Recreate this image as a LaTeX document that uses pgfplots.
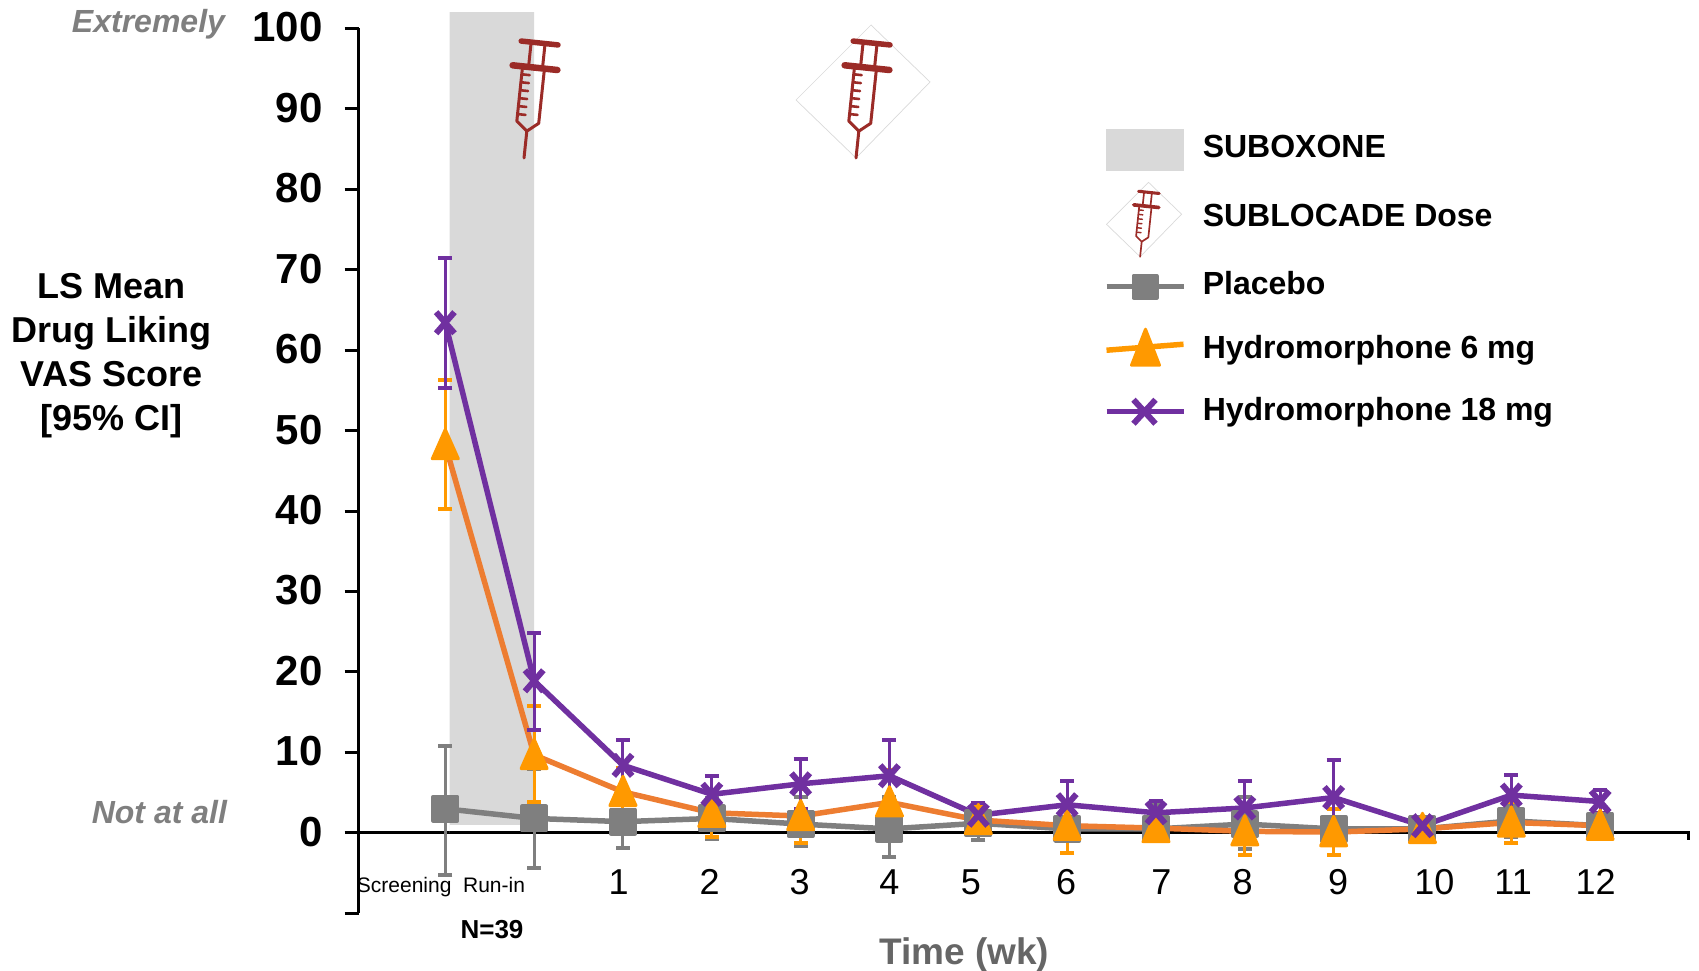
\documentclass[border=0pt]{standalone}
\usepackage{pgfplots}
\usepackage{pgfplotstable}
\usepackage{fontspec}
\setmainfont{Liberation Sans}
\pgfplotsset{compat=1.18}
\definecolor{bandgray}{HTML}{D9D9D9}
\definecolor{pbo}{HTML}{7F7F7F}
\definecolor{hlow}{HTML}{ED7D31}
\definecolor{hlowm}{HTML}{FF9900}
\definecolor{hhigh}{HTML}{7030A0}
\definecolor{syr}{HTML}{9B2B27}
\newcommand{\fs}[1]{\fontsize{#1}{#1}\selectfont}
% syringe: #1,#2 needle tip, #3 scale
\newcommand{\syringe}[3]{%
\begin{scope}[x=1pt,y=1pt,shift={(#1,#2)},scale=#3,rotate=-6,draw=syr,line cap=round,line join=round]
\draw[line width=#3*3pt] (0,0)--(0,27)--(-11,36)--(-11,91);
\draw[line width=#3*3pt] (0,27)--(11,36)--(11,91);
\draw[line width=#3*2.6pt] (-11,43)--(-3,43) (-11,51)--(-3,51) (-11,59)--(-3,59) (-11,67)--(-3,67) (-11,75)--(-3,75) (-11,83)--(-3,83);
\draw[line width=#3*3pt] (-5,91)--(-5,116) (9,91)--(9,116);
\draw[line width=#3*6.5pt] (-21,91)--(24,91);
\draw[line width=#3*5.5pt] (-15,116)--(22,116);
\end{scope}}
\newcommand{\diamondbox}[3]{%
\begin{scope}[x=1pt,y=1pt,shift={(#1,#2)},scale=#3]
\draw[black!15,line width=0.7pt] (0,0)--(74,76)--(15,133)--(-60,58)--cycle;
\end{scope}}
\pgfplotstableread{
x y p m
0 3.0 7.8 8.2
1 1.8 6.2 6.2
2 1.4 3.1 3.3
3 1.8 2.6 2.6
4 1.1 3.4 2.7
5 0.5 4.0 3.5
6 1.2 2.1 2.1
7 0.5 2.8 3.0
8 0.5 3.0 1.0
9 1.1 3.4 3.1
10 0.5 1.5 1.5
11 0.5 1.0 0.8
12 1.5 2.0 2.0
13 0.9 1.6 1.4
}\placebodata
\pgfplotstableread{
x y p m
0 48.2 8.1 8.0
1 9.7 6.1 5.9
2 5.1 3.0 3.0
3 2.5 2.5 3.0
4 2.1 3.4 3.3
5 3.8 4.0 3.8
6 1.6 1.9 1.6
7 0.9 2.6 3.4
8 0.6 1.4 0.9
9 0.2 2.8 3.0
10 0.1 2.9 2.9
11 0.5 1.0 1.0
12 1.3 2.5 2.5
13 0.9 1.6 1.4
}\hsixdata
\pgfplotstableread{
x y p m
0 63.4 8.1 8.1
1 18.9 6.0 6.1
2 8.4 3.2 3.4
3 4.8 2.3 2.3
4 6.1 3.1 3.1
5 7.1 4.5 4.6
6 2.2 1.5 1.5
7 3.5 3.0 3.0
8 2.5 1.5 1.5
9 3.1 3.4 3.1
10 4.4 4.6 4.4
11 0.9 0.9 0.9
12 4.7 2.5 2.5
13 3.9 1.4 1.4
}\heightdata
\begin{document}
\begin{tikzpicture}[x=1pt,y=1pt]
\path[use as bounding box] (0,0) rectangle (1699,971);
\begin{axis}[
  at={(358.6pt,57.6pt)}, anchor=south west,
  scale only axis, width=1329.5pt, height=885.2pt,
  clip=false,
  xmin=-0.976, xmax=13.99, ymin=-10, ymax=100,
  axis x line=middle, axis y line=left,
  axis line style={-, line width=3pt, black},
  hide obscured x ticks=false, hide obscured y ticks=false,
  ytick={-10,0,10,20,30,40,50,60,70,80,90,100},
  yticklabels={{},0,10,20,30,40,50,60,70,80,90,100},
  yticklabel style={font=\fs{42}\bfseries, inner sep=0pt, xshift=-22pt, yshift=1pt},
  xtick={1.951,2.976,3.988,5.0,5.915,6.988,8.061,8.976,10.05,11.134,12.02,12.95},
  xticklabels={1,2,3,4,5,6,7,8,9,10,11,12},
  xticklabel style={font=\fs{36}, yshift=-19pt},
  tick align=outside,
  x tick style={draw=none},
  y tick style={line width=3pt, black},
  major tick length=14pt,
  xlabel={Time (wk)},
  xlabel style={at={(axis cs:5.84,-15.1)}, anchor=center, font=\fs{37}\bfseries, text=black!60},
  ylabel={LS Mean\\[8pt] Drug Liking\\[8pt] VAS Score\\[8pt] [95\% CI]},
  ylabel style={at={(axis cs:-3.756,59.3)}, anchor=center, rotate=-90, align=center, font=\fs{36}\bfseries},
  legend cell align=left,
  legend style={at={(axis cs:7.41,87.6)}, anchor=north west, draw=none, fill=none,
    inner sep=0pt, row sep=0pt, font=\fs{32}\bfseries,
    nodes={inner sep=0pt}},
  legend entries={SUBOXONE,SUBLOCADE Dose,Placebo,Hydromorphone 6 mg,Hydromorphone 18 mg},
  error bars/y dir=both, error bars/y explicit,
]
\addlegendimage{legend image code/.code={\begin{scope}[yshift=-9.6pt]\fill[bandgray] (0pt,-14pt) rectangle (77pt,27pt); \path (0pt,-22pt)(93.5pt,28pt);\end{scope}}}
\addlegendimage{legend image code/.code={\begin{scope}[yshift=-9.6pt]\diamondbox{33.6pt}{-31pt}{0.56}\syringe{33.6pt}{-31pt}{0.56}\path (0pt,-33pt)(93.5pt,47pt);\end{scope}}}
% SUBOXONE period
\addplot[forget plot, draw=none, fill=bandgray] coordinates {(0.05,1) (1.0,1) (1.0,102) (0.05,102)} \closedcycle;
% Placebo
\addplot[line width=5.5pt, pbo, mark=square*, mark size=12pt,
  mark options={solid, fill=pbo, draw=pbo, line join=round, line width=4pt},
  error bars/error bar style={line width=3pt, pbo},
  error bars/error mark options={rotate=90, mark size=7pt, line width=4pt, pbo},
  legend image code/.code={\begin{scope}[yshift=-9.6pt]\path (0pt,-28pt)(93.5pt,32pt);
    \draw[line width=5.5pt,pbo] (0pt,7pt)--(77pt,7pt);
    \draw[fill=pbo,draw=pbo,line join=round,line width=4pt] (27pt,-4pt) rectangle (50pt,18pt);\end{scope}}]
  table[x=x,y=y,y error plus=p,y error minus=m] {\placebodata};
% Hydromorphone 6 mg
\addplot[line width=5.5pt, hlow, mark=triangle*, mark size=15pt,
  mark options={solid, fill=hlowm, draw=hlowm, line join=round, line width=3pt, yscale=1.3, yshift=-3pt},
  error bars/error bar style={line width=3pt, hlowm},
  error bars/error mark options={rotate=90, mark size=7pt, line width=4pt, hlowm},
  legend image code/.code={\begin{scope}[yshift=-9.6pt]\path (0pt,-28pt)(93.5pt,30pt);
    \draw[line width=5.5pt,hlowm] (0pt,7pt)--(77pt,13pt);
    \fill[hlowm,draw=hlowm,line join=round,line width=3pt] (39pt,28pt)--(25pt,-8pt)--(53pt,-8pt)--cycle;\end{scope}}]
  table[x=x,y=y,y error plus=p,y error minus=m] {\hsixdata};
% Hydromorphone 18 mg
\addplot[line width=5.5pt, hhigh, mark=x, mark size=13pt,
  mark options={solid, draw=hhigh, line width=6pt, yscale=1.15},
  error bars/error bar style={line width=3pt, hhigh},
  error bars/error mark options={rotate=90, mark size=7pt, line width=4pt, hhigh},
  legend image code/.code={\begin{scope}[yshift=-9.6pt]\path (0pt,-10pt)(93.5pt,29pt);
    \draw[line width=5.5pt,hhigh] (0pt,8pt)--(77pt,8pt);
    \draw[line width=6pt,hhigh] (27pt,-4pt)--(49pt,20pt) (27pt,20pt)--(49pt,-4pt);\end{scope}}]
  table[x=x,y=y,y error plus=p,y error minus=m] {\heightdata};
\end{axis}
% end tick of the time axis
\draw[line width=3pt] (1688,139.5)--(1688,131);
\syringe{524}{813}{1}
\diamondbox{856}{813}{1}
\syringe{856}{813}{1}
\node[font=\fs{32}\bfseries\itshape, text=pbo, anchor=east] at (228.5,947) {Extremely};
\node[font=\fs{32}\bfseries\itshape, text=pbo, anchor=east] at (230.5,159) {Not at all};
\node[font=\fs{21}] at (441,84) {Screening\ \ Run-in};
\node[font=\fs{26}\bfseries] at (492,41) {N=39};
\end{tikzpicture}
\end{document}
